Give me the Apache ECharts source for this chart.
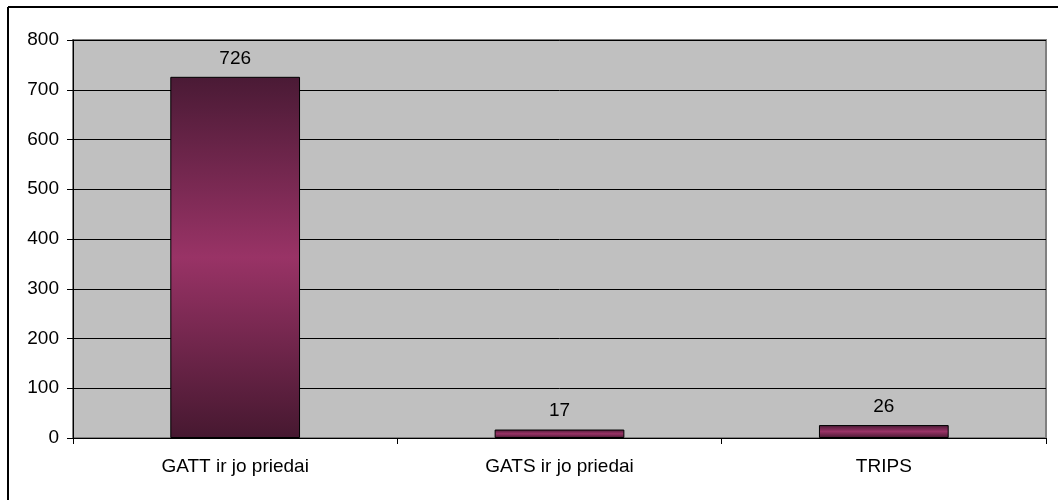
<!DOCTYPE html>
<html>
<head>
<meta charset="utf-8">
<script src="https://cdn.jsdelivr.net/npm/echarts@6/dist/echarts.min.js"></script>
<style>
html,body{margin:0;padding:0;background:#fff;}
#c{width:1058px;height:500px;}
</style>
</head>
<body>
<div id="c"></div>
<script>
var categories = ['GATT ir jo priedai', 'GATS ir jo priedai', 'TRIPS'];
var values = [726, 17, 26];
var yTicks = {min: 0, max: 800, interval: 100};

var chart = echarts.init(document.getElementById('c'), null, {renderer: 'canvas'});
var barGrad = new echarts.graphic.LinearGradient(0, 0, 0, 1, [
  {offset: 0, color: '#4a1a35'},
  {offset: 0.5, color: '#993366'},
  {offset: 1, color: '#461830'}
]);
chart.setOption({
  animation: false,
  backgroundColor: '#ffffff',
  textStyle: {fontFamily: 'Liberation Sans, Arial, sans-serif'},
  grid: {
    left: 73, top: 40, right: 12, bottom: 62,
    show: true, backgroundColor: '#c0c0c0', borderColor: '#808080', borderWidth: 2
  },
  xAxis: {
    type: 'category',
    data: categories,
    axisLine: {lineStyle: {color: '#000', width: 1}},
    axisTick: {show: true, length: 6, lineStyle: {color: '#000'}},
    axisLabel: {color: '#000', fontSize: 19, margin: 19}
  },
  yAxis: {
    type: 'value',
    min: yTicks.min, max: yTicks.max, interval: yTicks.interval,
    axisLine: {show: true, lineStyle: {color: '#000', width: 1}},
    axisTick: {show: true, length: 6, lineStyle: {color: '#000'}},
    axisLabel: {color: '#000', fontSize: 19, margin: 14},
    splitLine: {show: true, lineStyle: {color: '#000', width: 1}}
  },
  series: [{
    type: 'bar',
    data: values,
    barWidth: '40%',
    itemStyle: {color: barGrad, borderColor: '#000', borderWidth: 1},
    label: {show: true, position: 'top', distance: 9, color: '#000', fontSize: 19}
  }],
  graphic: [
    {type: 'line', shape: {x1: 8, y1: 7, x2: 1058, y2: 7}, style: {stroke: '#000', lineWidth: 2}},
    {type: 'line', shape: {x1: 8, y1: 7, x2: 8, y2: 500}, style: {stroke: '#000', lineWidth: 2}}
  ]
});
</script>
</body>
</html>
